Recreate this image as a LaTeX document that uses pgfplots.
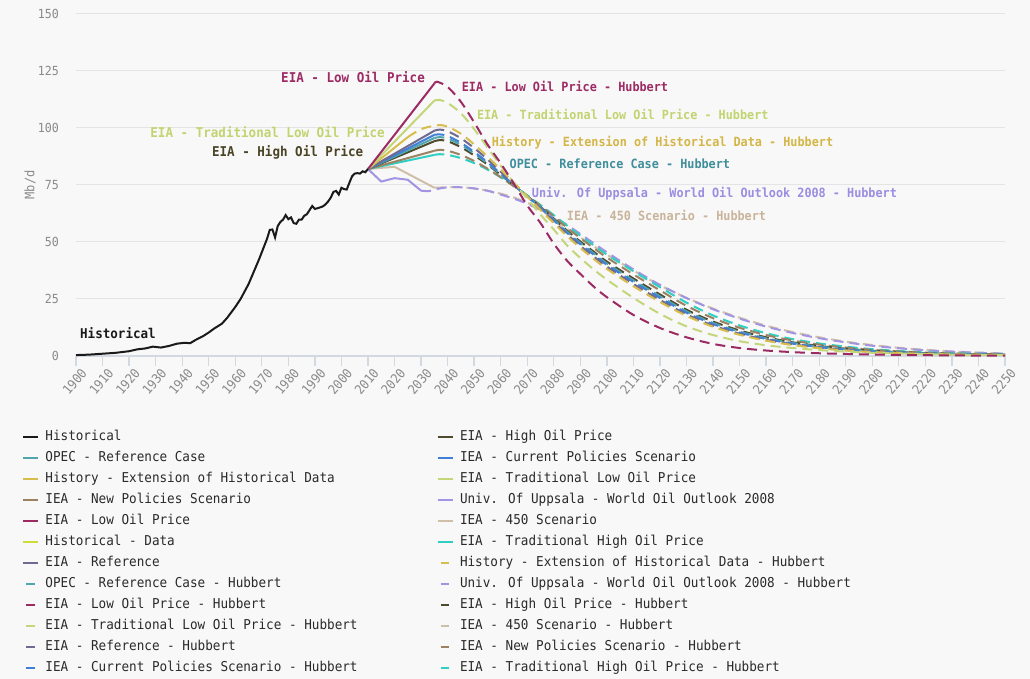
\documentclass[border=0pt]{standalone}
\usepackage{fontspec}
\setmainfont{DejaVu Sans Mono}[FakeStretch=0.93]
\usepackage{pgfplots}
\pgfplotsset{compat=1.18}
\definecolor{bg}{HTML}{F8F8F8}
\definecolor{gridcol}{HTML}{E4E4E6}
\definecolor{axiscol}{HTML}{D3D9E0}
\definecolor{tickcol}{HTML}{8A8A8A}
\definecolor{legtext}{HTML}{2A2A2A}
\definecolor{cHist}{HTML}{1A1A1A}
\definecolor{cHigh}{HTML}{4F4A2C}
\definecolor{cOPEC}{HTML}{4FA6AD}
\definecolor{cCP}{HTML}{3F7FD6}
\definecolor{cGold}{HTML}{D6BD4C}
\definecolor{cTLow}{HTML}{C3D67A}
\definecolor{cNP}{HTML}{9C8263}
\definecolor{cUpp}{HTML}{A394E3}
\definecolor{cLow}{HTML}{9C2A63}
\definecolor{c450}{HTML}{D0BFA8}
\definecolor{cHData}{HTML}{CDDC3A}
\definecolor{cTHigh}{HTML}{2FCFC4}
\definecolor{cRef}{HTML}{6F6A92}
\definecolor{cTLowT}{HTML}{C2D470}
\definecolor{cGoldT}{HTML}{D4B647}
\definecolor{cOPECT}{HTML}{3F8E9B}
\definecolor{cUppT}{HTML}{9B8DE0}
\definecolor{c450T}{HTML}{C9B49A}
\definecolor{cHighT}{HTML}{4A4425}
\pgfplotsset{
 fc/.style={line width=2pt, forget plot},
 hub/.style={line width=2pt, forget plot, dash pattern=on 10pt off 6pt, smooth},
 dleg/.style={legend image code/.code={\path[draw=none,fill=none] (0pt,-1pt) rectangle (15pt,1pt); \draw[##1,solid] (3pt,0pt) -- (11.5pt,0pt);}},
}
\newcommand{\lab}{\bfseries\fontsize{13.5}{15}\selectfont}
\newcommand{\labr}{\bfseries\fontsize{12.7}{15}\selectfont}
\newcommand{\SL}[1]{\addlegendimage{color=#1, line width=1.6pt}}
\newcommand{\DL}[1]{\addlegendimage{dleg, color=#1, line width=1.6pt}}
\newcommand{\LB}[1]{\makebox[385pt][l]{#1}}
\begin{document}
\begin{tikzpicture}
\path[use as bounding box, fill=bg] (0,0) rectangle (1030pt,679pt);
\begin{axis}[
 at={(76pt,323pt)}, anchor=south west,
 scale only axis, width=929pt, height=342pt,
 xmin=1900, xmax=2250, ymin=0, ymax=150,
 clip=false,
 xtick={1900,1910,...,2250},
 ytick={0,25,...,150},
 /pgf/number format/1000 sep={},
 /pgf/number format/assume math mode=true,
 axis x line*=bottom, axis y line*=left,
 y axis line style={draw=none},
 x axis line style={draw=axiscol, line width=2pt, -},
 ytick style={draw=none},
 xtick style={draw=axiscol, line width=1.3pt},
 tick align=outside,
 major tick length=10pt,
 ymajorgrids, grid style={draw=gridcol, line width=1pt},
 xticklabel style={rotate=50, anchor=east, inner sep=0pt, yshift=-9pt, xshift=2pt, font=\fontsize{13}{14}\selectfont, text=tickcol},
 yticklabel style={inner sep=0pt, xshift=-7pt, font=\fontsize{12.5}{14}\selectfont, text=tickcol},
 ylabel={Mb/d},
 every axis y label/.style={at={(axis description cs:-0.0495,0.5)}, rotate=90, anchor=center, font=\fontsize{13}{14}\selectfont, text=tickcol},
 legend image code/.code={\path[draw=none,fill=none] (0pt,-1pt) rectangle (15pt,1pt); \draw[#1,solid] (0pt,0pt) -- (15pt,0pt);},
 legend columns=2,
 legend style={draw=none, fill=none, inner xsep=0pt, inner ysep=0pt,
   at={(-0.0580,-0.2178)}, anchor=north west,
   column sep=6.5pt, row sep=8pt,
   font=\fontsize{13.6}{16}\selectfont, text=legtext,
   nodes={inner sep=0pt, text height=10pt, text depth=3pt},
   cells={anchor=west}},
]
% ---- solid forecasts ----
\addplot[fc, color=c450] coordinates {(2010,82)(2020,83)(2035,73.8)};
\addplot[fc, color=cUpp] coordinates {(2010,82)(2015,76.5)(2020,78)(2025,77.3)(2030,72.5)};
\addplot[fc, color=cTHigh] coordinates {(2010,82)(2035,88.2)};
\addplot[fc, color=cNP] coordinates {(2010,82)(2035,90)};
\addplot[fc, color=cHigh] coordinates {(2010,82)(2035,94.2)};
\addplot[fc, color=cOPEC] coordinates {(2010,82)(2035,95.6)};
\addplot[fc, color=cCP] coordinates {(2010,82)(2035,97)};
\addplot[fc, color=cRef] coordinates {(2010,82)(2035,98.8)};
\addplot[fc, color=cGold] coordinates {(2010,82)(2025,96)};
\addplot[fc, color=cTLow] coordinates {(2010,82)(2035,112)};
\addplot[fc, color=cLow] coordinates {(2010,82)(2035,119.5)};
% ---- Hubbert curves ----
\addplot[hub, color=c450] coordinates {(2035,73.8)(2040,74)(2045,74)(2050,73.5)(2055,72.5)(2060,71.2)(2065,69.5)(2070,67.2)(2075,64.5)(2080,59.5)(2085,55.8)(2090,52)(2095,48.2)(2100,44.5)(2110,37.5)(2120,31)(2130,25.5)(2140,20.8)(2150,16.8)(2160,13.3)(2170,10.5)(2180,8.2)(2190,6.3)(2200,4.8)(2210,3.6)(2220,2.7)(2230,2.0)(2240,1.5)(2250,1.1)};
\addplot[hub, color=cUpp] coordinates {(2030,72.5)(2033,72.3)(2035,73)(2040,74)(2045,74)(2050,73.5)(2055,72.5)(2060,70.8)(2065,69)(2070,66.8)(2075,64)(2080,61)(2085,57.5)(2090,53.5)(2095,49.5)(2100,45.5)(2110,38)(2120,31.2)(2130,25.4)(2140,20.5)(2150,16.4)(2160,12.9)(2170,10.1)(2180,7.8)(2190,6.0)(2200,4.5)(2210,3.4)(2220,2.5)(2230,1.9)(2240,1.4)(2250,1.0)};
\addplot[hub, color=cTHigh] coordinates {(2035,88.2)(2037,88.5)(2040,88.2)(2045,86.8)(2050,84.6)(2055,81.8)(2060,78.4)(2065,74.6)(2070,70.5)(2075,66.2)(2080,61.8)(2085,57.2)(2090,52.8)(2095,48.6)(2100,44.5)(2110,37.2)(2120,30.2)(2130,23.4)(2140,17.8)(2150,13.4)(2160,10)(2170,7.4)(2180,5.5)(2190,4.1)(2200,3.0)(2210,2.2)(2225,1.4)(2250,0.75)};
\addplot[hub, color=cNP] coordinates {(2035,90)(2037,90.4)(2040,90)(2045,88.2)(2050,85.5)(2055,82.2)(2060,78.4)(2065,74.4)(2070,70.2)(2075,65.9)(2080,61.2)(2085,56.3)(2090,51.7)(2095,47.4)(2100,43.2)(2110,35.8)(2120,28.8)(2130,22)(2140,16.6)(2150,12.4)(2160,9.2)(2170,6.8)(2180,5.0)(2190,3.7)(2200,2.7)(2210,2.0)(2225,1.25)(2250,0.65)};
\addplot[hub, color=cHigh] coordinates {(2035,94.2)(2037,94.7)(2040,94.2)(2045,91.6)(2050,88)(2055,84)(2060,79.4)(2065,74.8)(2070,70.1)(2075,65.4)(2080,60.3)(2085,55)(2090,50.2)(2095,45.8)(2100,41.4)(2110,34)(2120,27)(2130,20.3)(2140,15.1)(2150,11.2)(2160,8.2)(2170,6)(2180,4.4)(2190,3.2)(2200,2.3)(2210,1.7)(2225,1.05)(2250,0.55)};
\addplot[hub, color=cOPEC] coordinates {(2035,95.6)(2037,96)(2040,95.4)(2045,92.6)(2050,88.8)(2055,84.5)(2060,79.7)(2065,74.9)(2070,70)(2075,65.2)(2080,59.9)(2085,54.5)(2090,49.6)(2095,45.1)(2100,40.6)(2110,33.2)(2120,26.2)(2130,19.6)(2140,14.5)(2150,10.7)(2160,7.8)(2170,5.7)(2180,4.1)(2190,3.0)(2200,2.15)(2210,1.6)(2225,1.0)(2250,0.5)};
\addplot[hub, color=cCP] coordinates {(2035,97)(2037,97.2)(2040,96.5)(2045,93.5)(2050,89.5)(2055,85)(2060,80)(2065,75)(2070,70)(2075,65)(2080,59.5)(2085,54)(2090,49)(2095,44.5)(2100,40)(2110,32.5)(2120,25.5)(2130,19)(2140,14)(2150,10.3)(2160,7.5)(2170,5.4)(2180,3.9)(2190,2.8)(2200,2.0)(2210,1.5)(2225,0.9)(2250,0.45)};
\addplot[hub, color=cRef] coordinates {(2035,98.8)(2037,99.3)(2040,98.6)(2045,95.5)(2050,91.2)(2055,86.3)(2060,80.8)(2065,75.3)(2070,70)(2075,64.6)(2080,59)(2085,53.4)(2090,48.3)(2095,43.7)(2100,39.2)(2110,31.6)(2120,24.6)(2130,18.3)(2140,13.4)(2150,9.8)(2160,7.1)(2170,5.1)(2180,3.7)(2190,2.6)(2200,1.9)(2210,1.4)(2225,0.85)(2250,0.4)};
\addplot[hub, color=cGold] coordinates {(2025,96)(2030,99.5)(2035,101)(2037,101.3)(2040,100.6)(2045,97.5)(2050,92.8)(2055,87.5)(2060,81.8)(2065,76)(2070,70)(2075,64)(2080,58.3)(2085,52.6)(2090,47.4)(2095,42.6)(2100,38.2)(2110,30.6)(2120,23.7)(2130,17.6)(2140,12.8)(2150,9.3)(2160,6.7)(2170,4.8)(2180,3.4)(2190,2.4)(2200,1.75)(2210,1.3)(2225,0.8)(2250,0.4)};
\addplot[hub, color=cTLow] coordinates {(2035,112)(2037,112.3)(2040,111)(2045,106.5)(2050,99.5)(2055,91.5)(2060,83.5)(2065,76)(2070,69)(2075,62)(2080,55.5)(2085,48.5)(2090,43)(2095,38)(2100,33.5)(2110,25.5)(2120,18.5)(2130,13)(2140,9.2)(2150,6.5)(2160,4.7)(2170,3.5)(2180,2.6)(2190,1.9)(2200,1.4)(2225,0.7)(2250,0.35)};
\addplot[hub, color=cLow] coordinates {(2035,119.5)(2036,120.3)(2040,118)(2045,111.5)(2050,102.5)(2055,92.8)(2060,84.5)(2065,75.5)(2070,66)(2075,58.3)(2080,49.3)(2085,41.8)(2090,36)(2095,30.5)(2100,25.8)(2110,18)(2120,12.3)(2130,8.2)(2140,5.3)(2150,3.5)(2160,2.4)(2170,1.7)(2180,1.2)(2200,0.65)(2225,0.3)(2250,0.15)};
% ---- historical ----
\addplot[fc, color=cHist] coordinates {(1900,0.4)(1905,0.6)(1910,1.0)(1915,1.4)(1920,2.1)(1923,2.9)(1926,3.3)(1929,4.1)(1932,3.7)(1935,4.4)(1938,5.4)(1941,5.8)(1943,5.6)(1945,7.0)(1948,8.8)(1950,10.3)(1952,12.0)(1955,14.2)(1957,16.8)(1960,21.5)(1962,25.0)(1965,31.5)(1967,37)(1969,42.5)(1970,45.5)(1972,51.5)(1973,55.3)(1974,55.5)(1975,52.0)(1976,57.0)(1977,58.8)(1978,59.8)(1979,61.8)(1980,60.0)(1981,60.8)(1982,58.3)(1983,58.0)(1984,59.8)(1985,59.8)(1986,61.5)(1987,62.2)(1988,64.0)(1989,65.8)(1990,64.5)(1991,64.8)(1992,65.2)(1993,65.6)(1994,66.5)(1995,67.8)(1996,69.5)(1997,72.0)(1998,72.4)(1999,70.8)(2000,73.8)(2001,73.2)(2002,73.0)(2003,76.0)(2004,78.8)(2005,80.0)(2006,80.2)(2007,80.0)(2008,81.0)(2009,80.6)(2010,82.0)};
% ---- labels ----
\node[anchor=east, inner sep=0pt, text=cLow, font=\lab] at (axis cs:2031.5,122.4) {EIA - Low Oil Price};
\node[anchor=east, inner sep=0pt, text=cTLowT, font=\lab] at (axis cs:2016.4,98.4) {EIA - Traditional Low Oil Price};
\node[anchor=east, inner sep=0pt, text=cHighT, font=\lab] at (axis cs:2008.3,89.2) {EIA - High Oil Price};
\node[anchor=west, inner sep=0pt, text=cHist, font=\lab] at (axis cs:1901.5,10) {Historical};
\node[anchor=west, inner sep=0pt, text=cLow, font=\labr] at (axis cs:2045.3,118.4) {EIA - Low Oil Price - Hubbert};
\node[anchor=west, inner sep=0pt, text=cTLowT, font=\labr] at (axis cs:2051,106) {EIA - Traditional Low Oil Price - Hubbert};
\node[anchor=west, inner sep=0pt, text=cGoldT, font=\labr] at (axis cs:2056.6,93.7) {History - Extension of Historical Data - Hubbert};
\node[anchor=west, inner sep=0pt, text=cOPECT, font=\labr] at (axis cs:2063.3,84.5) {OPEC - Reference Case - Hubbert};
\node[anchor=west, inner sep=0pt, text=cUppT, font=\labr] at (axis cs:2071.7,71.4) {Univ. Of Uppsala - World Oil Outlook 2008 - Hubbert};
\node[anchor=west, inner sep=0pt, text=c450T, font=\labr] at (axis cs:2084.9,61.5) {IEA - 450 Scenario - Hubbert};
% ---- legend ----
\SL{cHist}\addlegendentry{\LB{Historical}}
\SL{cHigh}\addlegendentry{EIA - High Oil Price}
\SL{cOPEC}\addlegendentry{\LB{OPEC - Reference Case}}
\SL{cCP}\addlegendentry{IEA - Current Policies Scenario}
\SL{cGold}\addlegendentry{\LB{History - Extension of Historical Data}}
\SL{cTLow}\addlegendentry{EIA - Traditional Low Oil Price}
\SL{cNP}\addlegendentry{\LB{IEA - New Policies Scenario}}
\SL{cUpp}\addlegendentry{Univ. Of Uppsala - World Oil Outlook 2008}
\SL{cLow}\addlegendentry{\LB{EIA - Low Oil Price}}
\SL{c450}\addlegendentry{IEA - 450 Scenario}
\SL{cHData}\addlegendentry{\LB{Historical - Data}}
\SL{cTHigh}\addlegendentry{EIA - Traditional High Oil Price}
\SL{cRef}\addlegendentry{\LB{EIA - Reference}}
\DL{cGold}\addlegendentry{History - Extension of Historical Data - Hubbert}
\DL{cOPEC}\addlegendentry{\LB{OPEC - Reference Case - Hubbert}}
\DL{cUpp}\addlegendentry{Univ. Of Uppsala - World Oil Outlook 2008 - Hubbert}
\DL{cLow}\addlegendentry{\LB{EIA - Low Oil Price - Hubbert}}
\DL{cHigh}\addlegendentry{EIA - High Oil Price - Hubbert}
\DL{cTLow}\addlegendentry{\LB{EIA - Traditional Low Oil Price - Hubbert}}
\DL{c450}\addlegendentry{IEA - 450 Scenario - Hubbert}
\DL{cRef}\addlegendentry{\LB{EIA - Reference - Hubbert}}
\DL{cNP}\addlegendentry{IEA - New Policies Scenario - Hubbert}
\DL{cCP}\addlegendentry{\LB{IEA - Current Policies Scenario - Hubbert}}
\DL{cTHigh}\addlegendentry{EIA - Traditional High Oil Price - Hubbert}
\end{axis}
\end{tikzpicture}
\end{document}
